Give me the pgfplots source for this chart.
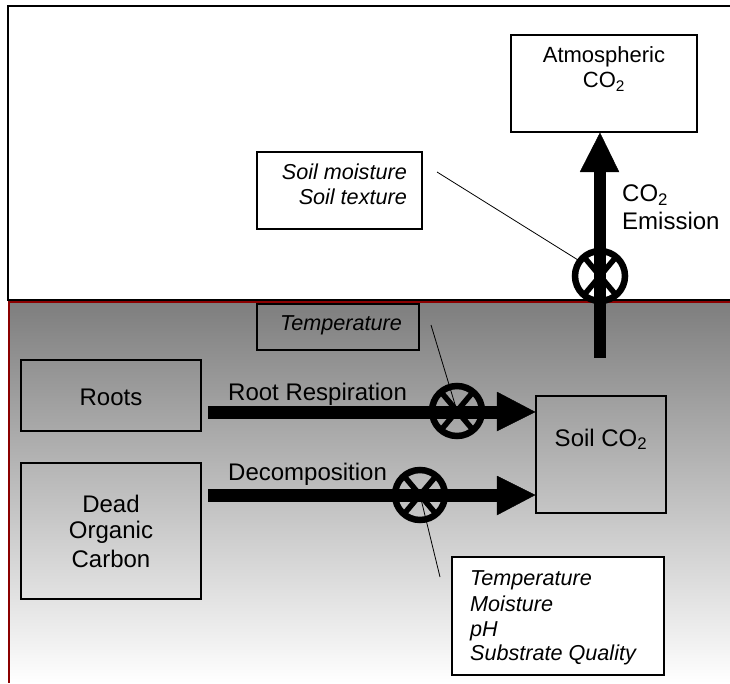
\documentclass[border=0pt]{standalone}
\usepackage{pgfplots}
\pgfplotsset{compat=1.18}
\usepackage{fontspec}
\setmainfont{Liberation Sans}
\definecolor{soilred}{RGB}{140,0,0}
\definecolor{soiltop}{RGB}{126,126,126}
\tikzset{valve/.style={line width=6.5bp},
  it/.style={font=\fontsize{21.6bp}{26bp}\selectfont\itshape}}
\begin{document}
\begin{tikzpicture}[every node/.style={font=\fontsize{24bp}{28bp}\selectfont,inner sep=0pt}]
\begin{axis}[width=730bp,height=683bp,scale only axis,
  xmin=0,xmax=730,ymin=0,ymax=683,hide axis,clip=false]
% soil region
\shade[top color=soiltop,bottom color=white] (axis cs:9,0) rectangle (axis cs:730,381);
\draw[soilred,line width=2bp] (axis cs:730,381) -- (axis cs:9,381) -- (axis cs:9,0);
% atmosphere region
\draw[black,line width=2bp] (axis cs:730,677) -- (axis cs:8,677) -- (axis cs:8,383) -- (axis cs:730,383);
% boxes
\draw[line width=1.5bp] (axis cs:511,551) rectangle (axis cs:697,648);
\node[anchor=base,font=\fontsize{22bp}{26bp}\selectfont] at (axis cs:604,620) {Atmospheric};
\node[anchor=base,font=\fontsize{22bp}{26bp}\selectfont] at (axis cs:604,595) {CO\textsubscript{2}};
\draw[line width=1.5bp,fill=white] (axis cs:257,454) rectangle (axis cs:422,531);
\node[anchor=base east,it] at (axis cs:407,503) {Soil moisture};
\node[anchor=base east,it] at (axis cs:407,478) {Soil texture};
\draw[line width=1.5bp] (axis cs:257,333) rectangle (axis cs:419,379);
\node[anchor=base,it] at (axis cs:341,352) {Temperature};
\draw[line width=1.5bp] (axis cs:21,252) rectangle (axis cs:201,323);
\node[anchor=base] at (axis cs:111,278) {Roots};
\draw[line width=1.5bp] (axis cs:21,84) rectangle (axis cs:201,220);
\node[anchor=base] at (axis cs:111,171) {Dead};
\node[anchor=base] at (axis cs:111,145) {Organic};
\node[anchor=base] at (axis cs:111,116) {Carbon};
\draw[line width=1.5bp] (axis cs:536,170) rectangle (axis cs:666,287);
\node[anchor=base] at (axis cs:601,237) {Soil CO\textsubscript{2}};
\draw[line width=1.5bp,fill=white] (axis cs:452,8) rectangle (axis cs:664,126);
\node[anchor=base west,it] at (axis cs:470,98) {Temperature};
\node[anchor=base west,it] at (axis cs:470,72) {Moisture};
\node[anchor=base west,it] at (axis cs:470,47) {pH};
\node[anchor=base west,it] at (axis cs:470,23) {Substrate Quality};
% leader lines
\addplot[black,line width=0.8bp] coordinates {(437,511) (578,423)};
\addplot[black,line width=0.8bp] coordinates {(431,358) (457,272)};
\addplot[black,line width=0.8bp] coordinates {(420,188) (440,106)};
% arrow shafts
\addplot[black,line width=12bp] coordinates {(600,325) (600,515)};
\addplot[black,line width=13bp] coordinates {(208,271) (499,271)};
\addplot[black,line width=13bp] coordinates {(208,188) (499,188)};
% arrow heads
\addplot[black,fill=black] coordinates {(580,511) (619,511) (600,550) (580,511)};
\addplot[black,fill=black] coordinates {(497,291) (497,252) (535,271) (497,291)};
\addplot[black,fill=black] coordinates {(497,207) (497,168) (535,188) (497,207)};
% labels
\node[anchor=base west] at (axis cs:622,481) {CO\textsubscript{2}};
\node[anchor=base west] at (axis cs:622,453) {Emission};
\node[anchor=base west] at (axis cs:228,283) {Root Respiration};
\node[anchor=base west] at (axis cs:228,203) {Decomposition};
% valves
\draw[valve] (axis cs:600,407) circle[radius=25bp];
\draw[line width=5.5bp] (axis cs:584,426) -- (axis cs:616,388);
\draw[line width=5.5bp] (axis cs:616,426) -- (axis cs:584,388);
\draw[valve] (axis cs:457,272) circle[radius=25bp];
\draw[line width=5.5bp] (axis cs:441,291) -- (axis cs:473,253);
\draw[line width=5.5bp] (axis cs:473,291) -- (axis cs:441,253);
\draw[valve] (axis cs:420,188) circle[radius=25bp];
\draw[line width=5.5bp] (axis cs:404,207) -- (axis cs:436,169);
\draw[line width=5.5bp] (axis cs:436,207) -- (axis cs:404,169);
\coordinate (bbsw) at (axis cs:0,0);
\coordinate (bbne) at (axis cs:730,683);
\end{axis}
\pgfresetboundingbox
\path[use as bounding box] (bbsw) rectangle (bbne);
\end{tikzpicture}
\end{document}
